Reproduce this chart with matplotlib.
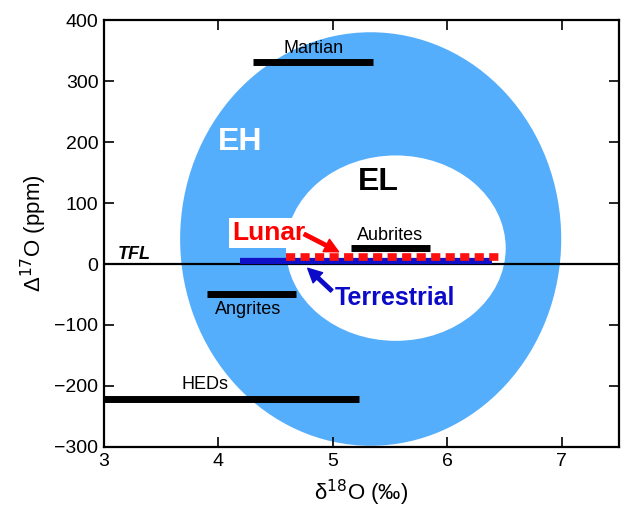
import matplotlib.pyplot as plt
from matplotlib.patches import Ellipse

plt.rcParams['font.family'] = ['Liberation Sans', 'DejaVu Sans']

# meteorite groups: name, d18O range, D17O value
groups = ['Martian', 'Aubrites', 'Angrites', 'HEDs']
x_lo = [4.30, 5.16, 3.90, 3.00]
x_hi = [5.35, 5.85, 4.68, 5.23]
d17 = [331, 26, -49, -221]
label_x = [4.83, 5.50, 4.26, 3.88]
label_y = [354, 46, -74, -197]

# terrestrial and lunar ranges
terr_x = [4.19, 6.39]
terr_y = 5
lunar_x = [4.59, 6.46]
lunar_y = 11

# enstatite chondrite fields (center x, center y, width, height)
eh_field = (5.33, 41, 3.33, 678)
el_field = (5.55, 26, 1.92, 304)

xticks = [3, 4, 5, 6, 7]
yticks = [-300, -200, -100, 0, 100, 200, 300, 400]

fig = plt.figure(figsize=(6.21, 5.14), dpi=100)
ax = fig.add_axes([0.1675, 0.1304, 0.8293, 0.8306])

ax.add_patch(Ellipse(eh_field[:2], eh_field[2], eh_field[3], color='#55aefc', lw=0, zorder=1))
ax.add_patch(Ellipse(el_field[:2], el_field[2], el_field[3], color='white', lw=0, zorder=2))

ax.axhline(0, color='black', lw=1.6, zorder=3)

for i in range(len(groups)):
    ax.plot([x_lo[i], x_hi[i]], [d17[i], d17[i]], color='black', lw=5, solid_capstyle='butt', zorder=4)
    ax.text(label_x[i], label_y[i], groups[i], fontsize=13, ha='center', va='center', zorder=5)

ax.plot(terr_x, [terr_y, terr_y], color='#1010c8', lw=4.5, solid_capstyle='butt', zorder=4)
ax.plot(lunar_x, [lunar_y, lunar_y], color='#ff1010', lw=5.5, dashes=(1.2, 0.7),
        dash_capstyle='butt', zorder=5)

ax.text(4.19, 200, 'EH', color='white', fontsize=23, fontweight='bold', ha='center', va='center', zorder=6)
ax.text(5.40, 134, 'EL', color='black', fontsize=23, fontweight='bold', ha='center', va='center', zorder=6)
ax.text(3.12, 15, 'TFL', fontsize=13, fontweight='bold', fontstyle='italic', ha='left', va='center', zorder=6)

ax.text(4.44, 51, 'Lunar', color='#ff0000', fontsize=19, fontweight='bold', ha='center', va='center', zorder=6,
        bbox=dict(facecolor='white', edgecolor='none', pad=2))
ax.annotate('', xy=(5.05, 20), xytext=(4.75, 49),
            arrowprops=dict(color='#ff0000', width=2.5, headwidth=10, headlength=10), zorder=6)

ax.text(5.54, -56, 'Terrestrial', color='#0a0ac8', fontsize=18, fontweight='bold', ha='center', va='center', zorder=6)
ax.annotate('', xy=(4.78, -7), xytext=(4.99, -44),
            arrowprops=dict(color='#0a0ac8', width=2.5, headwidth=10, headlength=10), zorder=6)

ax.set_xlim(3, 7.5)
ax.set_ylim(-300, 400)
ax.set_xticks(xticks)
ax.set_yticks(yticks)
ax.tick_params(direction='in', top=True, right=True, length=7, width=1.2, labelsize=14, pad=4)
for s in ax.spines.values():
    s.set_linewidth(1.6)

ax.set_xlabel('δ$^{18}$O (‰)', fontsize=16, labelpad=6)
ax.set_ylabel('Δ$^{17}$O (ppm)', fontsize=16, labelpad=4)

plt.savefig('out.png', dpi=100)
